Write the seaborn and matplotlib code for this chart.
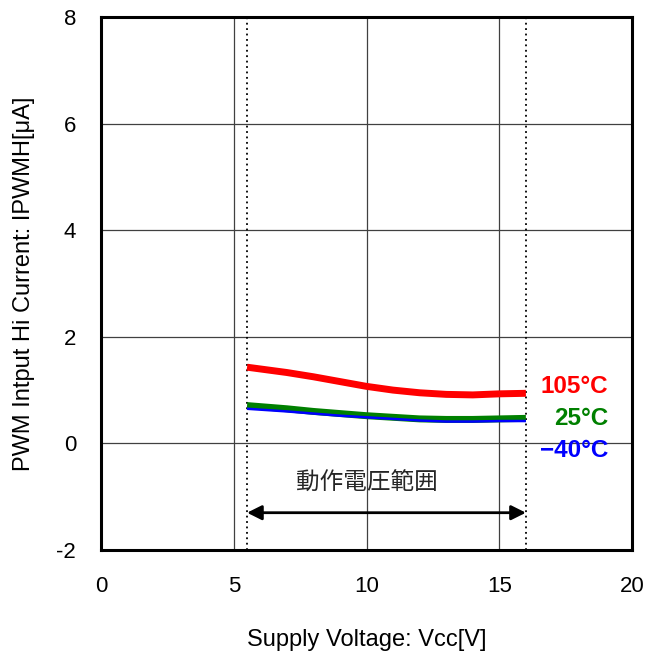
import matplotlib
matplotlib.use("Agg")
import matplotlib.pyplot as plt
import seaborn as sns
import pandas as pd
from matplotlib.ticker import FuncFormatter

vcc = [5.5, 7, 8, 9, 10, 11, 12, 13, 14, 15, 16]
i_105 = [1.43, 1.33, 1.25, 1.16, 1.07, 1.00, 0.95, 0.92, 0.91, 0.93, 0.94]
i_25 = [0.71, 0.65, 0.60, 0.56, 0.52, 0.49, 0.46, 0.45, 0.45, 0.46, 0.47]
i_m40 = [0.65, 0.60, 0.56, 0.52, 0.49, 0.46, 0.43, 0.41, 0.41, 0.42, 0.42]
series_names = ["105°C", "25°C", "−40°C"]
series_colors = ["#ff0000", "#008000", "#0000ff"]
x_ticks = [0, 5, 10, 15, 20]
y_ticks = [-2, 0, 2, 4, 6, 8]
range_lo, range_hi = 5.5, 16.0

sns.set_theme(style="white")
plt.rcParams['font.family'] = ['Liberation Sans', 'DejaVu Sans', 'Noto Sans CJK JP']

fig = plt.figure(figsize=(6.45, 6.53), dpi=100)
ax = fig.add_axes([0.1566, 0.1577, 0.8234, 0.8163])

df = pd.DataFrame({"vcc": vcc * 3,
                   "i": i_105 + i_25 + i_m40,
                   "T": [series_names[0]] * len(vcc) + [series_names[1]] * len(vcc) + [series_names[2]] * len(vcc)})
widths = [5, 5, 1.8]
zord = [4, 4, 5]
for k in [2, 1, 0]:
    sub = df[df["T"] == series_names[k]]
    sns.lineplot(data=sub, x="vcc", y="i", color=series_colors[k], lw=widths[k], ax=ax, legend=False,
                 zorder=zord[k], solid_capstyle='butt')

ax.set_xlim(0, 20)
ax.set_ylim(-2, 8)
ax.set_xticks(x_ticks)
ax.set_yticks(y_ticks)
fmt = FuncFormatter(lambda v, p: f"{v:g}")
ax.xaxis.set_major_formatter(fmt)
ax.yaxis.set_major_formatter(fmt)
ax.tick_params(axis='x', length=0, labelsize=16, colors='black', pad=19)
ax.tick_params(axis='y', length=0, labelsize=16, colors='black', pad=18)
for x in [5, 10, 15]:
    ax.axvline(x, color='#404040', lw=0.9, zorder=1)
for y in [0, 2, 4, 6]:
    ax.axhline(y, color='#404040', lw=0.9, zorder=1)
for x in [range_lo, range_hi]:
    ax.axvline(x, color='black', lw=1.3, ls=(0, (1, 2)), zorder=2)
for s in ax.spines.values():
    s.set_linewidth(2.2)
    s.set_color('black')

ax.set_xlabel("Supply Voltage: Vcc[V]", fontsize=17, color='black', labelpad=23)
ax.set_ylabel("PWM Intput Hi Current: IPWMH[μA]", fontsize=17, color='black', labelpad=15)

label_y = [1.07, 0.47, -0.13]
for name, col, yy in zip(series_names, series_colors, label_y):
    ax.text(19.1, yy, name, color=col, fontsize=17.5, fontweight='bold', ha='right', va='center')

ax.annotate("", xy=(range_lo, -1.3), xytext=(range_hi, -1.3),
            arrowprops=dict(arrowstyle='<|-|>', color='black', lw=2, mutation_scale=22, shrinkA=0, shrinkB=0))
ax.text(10.0, -0.75, "動作電圧範囲", fontsize=17, ha='center', va='center',
        family=['Noto Sans CJK JP'])

fig.savefig("out.png", dpi=100)
